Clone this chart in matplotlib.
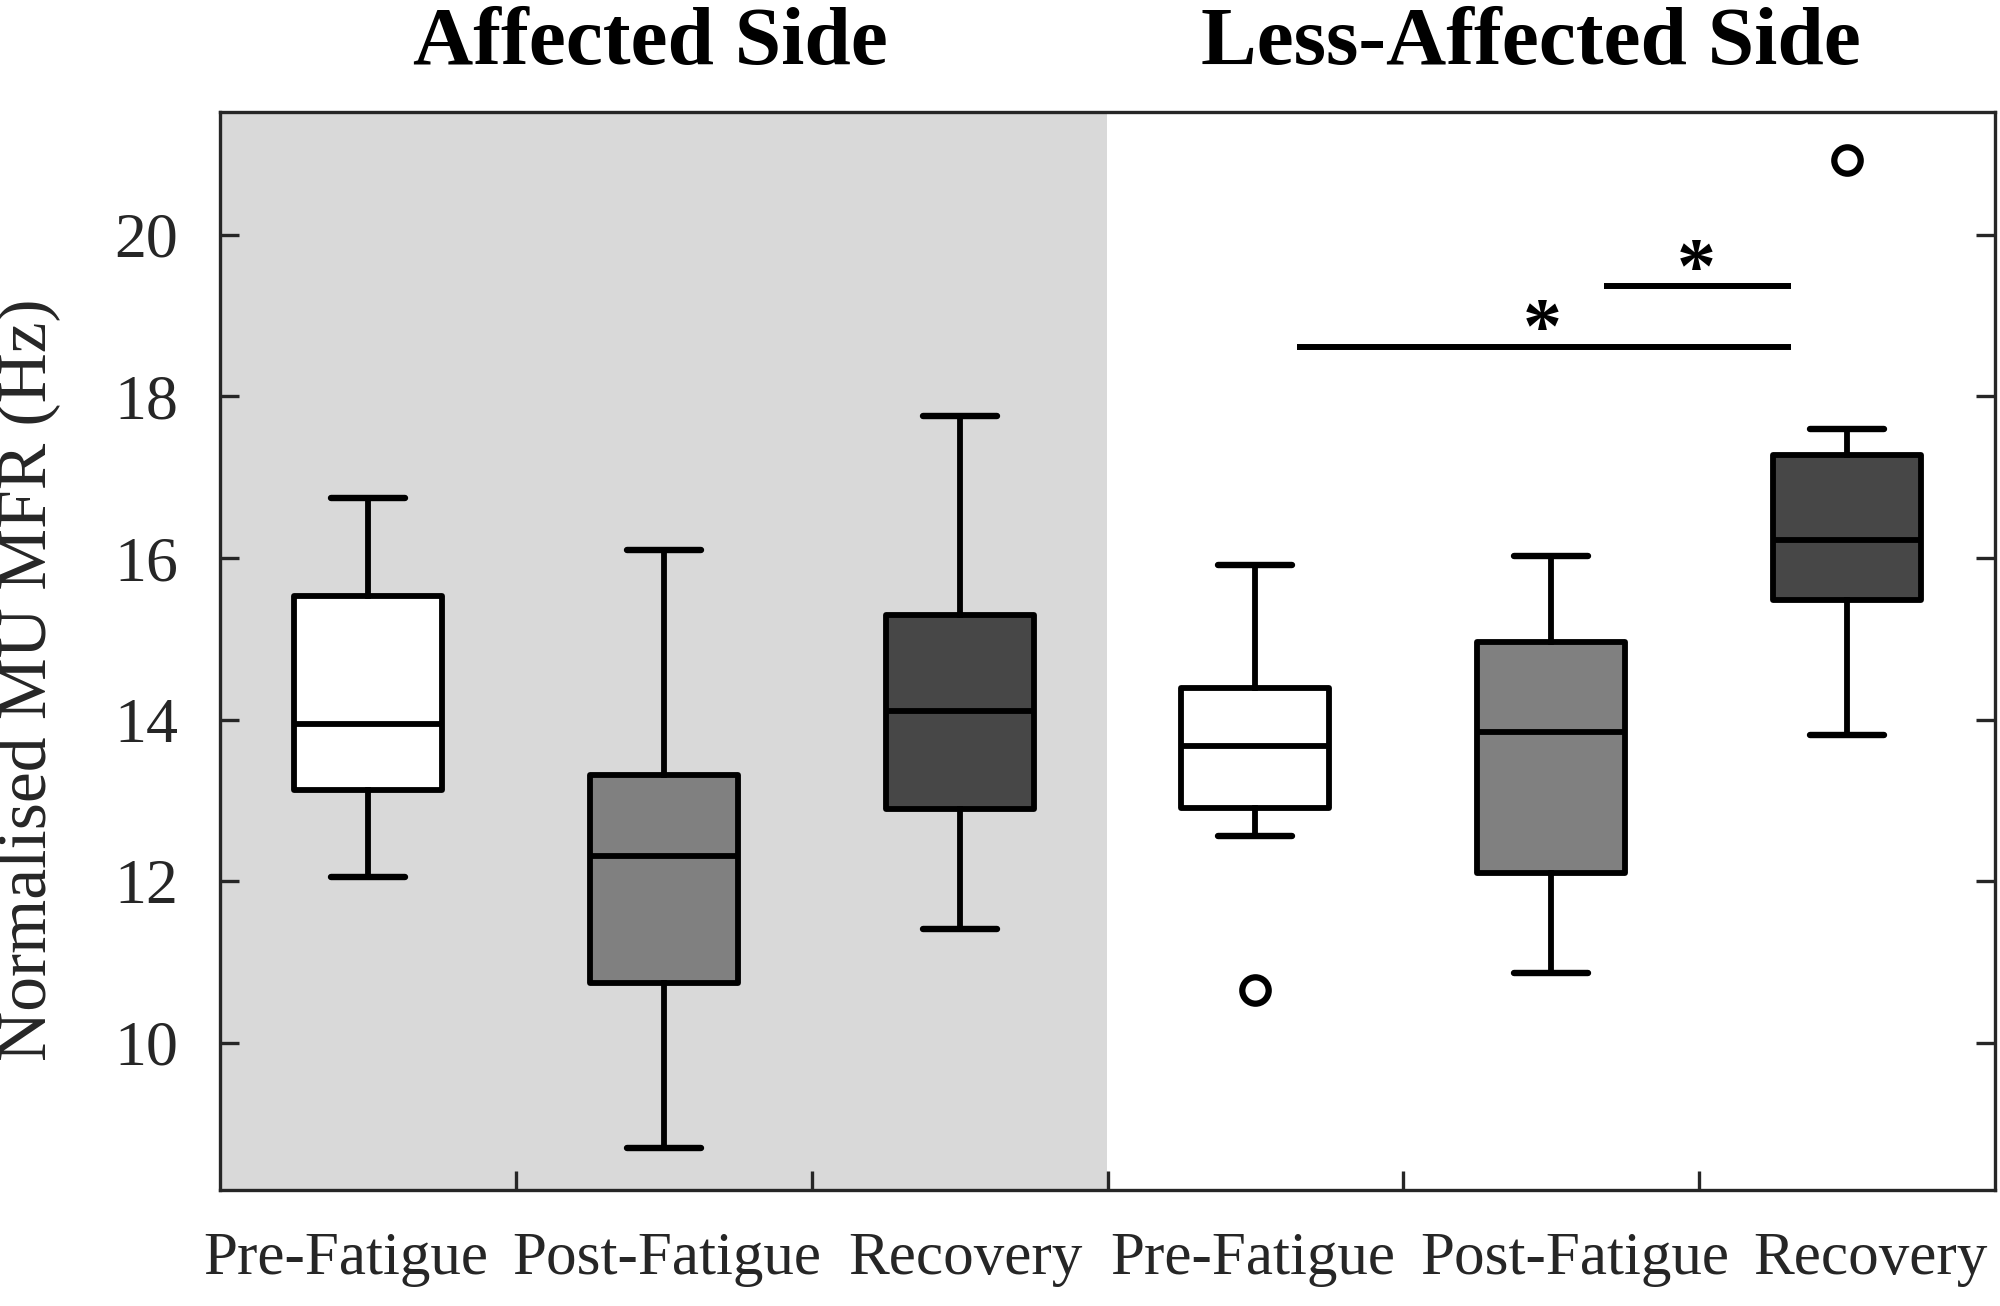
import numpy as np
import matplotlib
matplotlib.use('Agg')
import matplotlib.pyplot as plt

# values (Hz)
conditions = ['Pre-Fatigue', 'Post-Fatigue', 'Recovery',
              'Pre-Fatigue', 'Post-Fatigue', 'Recovery']
medians = [13.95, 12.31, 14.11, 13.68, 13.85, 16.22]
q1 = [13.13, 10.74, 12.89, 12.91, 12.10, 15.48]
q3 = [15.53, 13.32, 15.29, 14.39, 14.96, 17.28]
whislo = [12.05, 8.70, 11.41, 12.56, 10.87, 13.81]
whishi = [16.75, 16.10, 17.76, 15.92, 16.03, 17.60]
fliers = [[], [], [], [10.66], [], [20.93]]
box_colors = ['white', '#808080', '#474747', 'white', '#808080', '#474747']

side_titles = ['Affected Side', 'Less-Affected Side']
title_x = [1.955, 4.93]

# significance bars: start, end, height; asterisk position
sig_x0 = [4.14, 5.18]
sig_x1 = [5.81, 5.81]
sig_y = [18.61, 19.37]
star_x = [4.97, 5.49]
star_y = [18.35, 19.10]

# the category labels sit a little off the box centres in the original
label_pos = [0.925, 2.01, 3.02, 3.99, 5.08, 6.08]

serif = ['Liberation Serif', 'DejaVu Serif']
txt = '#262626'

fig = plt.figure(figsize=(20, 13.06), dpi=100)
ax = fig.add_axes([0.110, 0.0888, 0.8875, 0.8254])

ax.axvspan(0.5, 3.5, color='#d9d9d9', zorder=0, lw=0)

stats = []
for i in range(len(medians)):
    stats.append(dict(med=medians[i], q1=q1[i], q3=q3[i],
                      whislo=whislo[i], whishi=whishi[i], fliers=fliers[i]))

positions = np.arange(1, len(medians) + 1)
bp = ax.bxp(stats, positions=positions, widths=0.5, patch_artist=True,
            showfliers=True,
            boxprops=dict(lw=4.2, edgecolor='black', joinstyle='round'),
            medianprops=dict(color='black', lw=4.2, solid_capstyle='butt'),
            whiskerprops=dict(color='black', lw=4.2),
            capprops=dict(color='black', lw=4.6, solid_capstyle='round'),
            flierprops=dict(marker='o', markersize=19, markeredgewidth=4.5,
                            markeredgecolor='black', markerfacecolor='white'))
for patch, c in zip(bp['boxes'], box_colors):
    patch.set_facecolor(c)
    patch.set_zorder(2)

for a, b, y in zip(sig_x0, sig_x1, sig_y):
    ax.plot([a, b], [y, y], color='black', lw=4.3, solid_capstyle='butt')
for x, y in zip(star_x, star_y):
    ax.text(x, y, '*', ha='center', va='bottom', fontsize=56,
            fontweight='bold', family=serif, color='black')

for x, t in zip(title_x, side_titles):
    ax.text(x, 1.045, t, transform=ax.get_xaxis_transform(), ha='center',
            va='baseline', fontsize=60, fontweight='bold', family=serif,
            color='black')

ax.set_xlim(0.5, 6.5)
ax.set_ylim(8.18, 21.52)

ax.set_xticks(label_pos)
ax.set_xticklabels(conditions, family=serif, fontsize=44, color=txt)
ax.set_xticks([1.5, 2.5, 3.5, 4.5, 5.5], minor=True)
ax.tick_params(axis='x', which='major', length=0, pad=30)
ax.tick_params(axis='x', which='minor', direction='in', length=14,
               width=2.4, color=txt, top=False)

ax.set_yticks([10, 12, 14, 16, 18, 20])
ax.set_yticklabels(['10', '12', '14', '16', '18', '20'], family=serif,
                   fontsize=46, color=txt)
ax.tick_params(axis='y', direction='in', length=14, width=2.4,
               color=txt, left=True, right=True, pad=30)

ax.set_ylabel('Normalised MU MFR (Hz)', family=serif, fontsize=50, color=txt)
ax.yaxis.set_label_coords(-0.090, 0.473)

for s in ax.spines.values():
    s.set_linewidth(2.4)
    s.set_color(txt)
    s.set_zorder(5)

fig.savefig('out.png', dpi=100)
